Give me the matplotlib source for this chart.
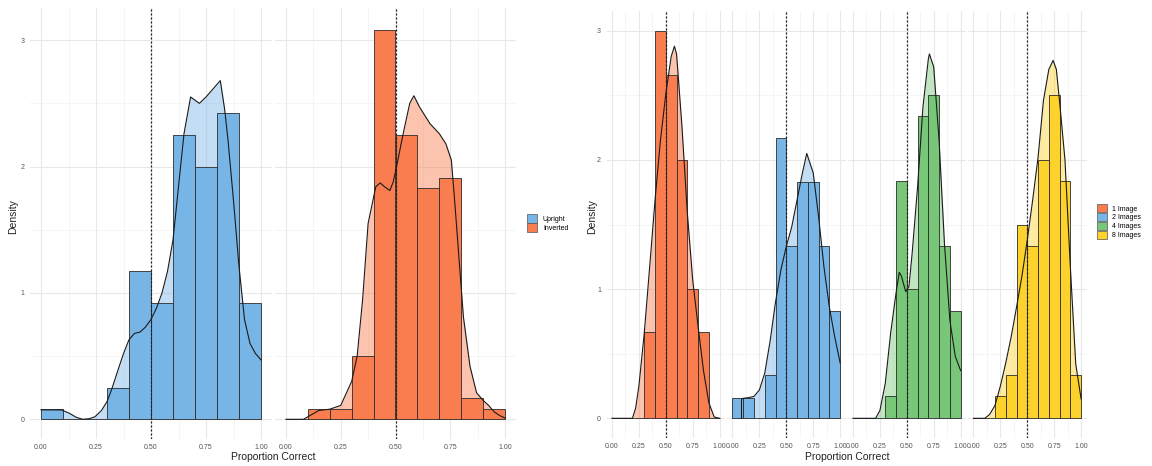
import matplotlib
matplotlib.use("Agg")
import matplotlib.pyplot as plt
from matplotlib.patches import Patch

# ---------------- data ----------------
BIN_STARTS = [0.0, 0.1, 0.2, 0.3, 0.4, 0.5, 0.6, 0.7, 0.8, 0.9]
BIN_WIDTH = 0.1
X_TICKS = [0.0, 0.25, 0.5, 0.75, 1.0]
X_TICK_LABELS = ["0.00", "0.25", "0.50", "0.75", "1.00"]
Y_TICKS = [0, 1, 2, 3]
Y_TICK_LABELS = ["0", "1", "2", "3"]
CHANCE = 0.5

# left chart: orientation
ORIENT_LABELS = ["Upright", "Inverted"]
UPRIGHT_HIST = [0.08, 0.0, 0.0, 0.25, 1.17, 0.92, 2.25, 2.0, 2.42, 0.92]
INVERTED_HIST = [0.0, 0.08, 0.08, 0.50, 3.08, 2.25, 1.83, 1.91, 0.17, 0.08]
UPRIGHT_DX = [0.0, 0.094, 0.13, 0.16, 0.19, 0.22, 0.245, 0.275, 0.3, 0.32, 0.35, 0.375,
              0.4, 0.425, 0.45, 0.475, 0.5, 0.525, 0.55, 0.575, 0.6, 0.625, 0.65, 0.68,
              0.72, 0.75, 0.775, 0.815, 0.835, 0.85, 0.875, 0.9, 0.925, 0.95, 0.975, 1.0]
UPRIGHT_DY = [0.075, 0.074, 0.047, 0.016, 0.0, 0.005, 0.02, 0.07, 0.14, 0.23, 0.39, 0.52,
              0.63, 0.68, 0.69, 0.73, 0.79, 0.88, 1.0, 1.17, 1.42, 1.84, 2.26, 2.55,
              2.5, 2.55, 2.6, 2.68, 2.45, 2.21, 1.73, 1.21, 0.79, 0.60, 0.52, 0.47]
INVERTED_DX = [0.0, 0.08, 0.1, 0.15, 0.2, 0.25, 0.3, 0.325, 0.35, 0.375, 0.41, 0.43, 0.45,
               0.474, 0.49, 0.505, 0.535, 0.565, 0.584, 0.61, 0.657, 0.7, 0.73, 0.755, 0.77,
               0.793, 0.81, 0.84, 0.87, 0.9, 0.925, 0.95, 0.975, 1.0]
INVERTED_DY = [0.0, 0.0, 0.02, 0.07, 0.08, 0.11, 0.3, 0.5, 0.95, 1.55, 1.84, 1.87, 1.84,
               1.81, 1.88, 2.0, 2.26, 2.5, 2.56, 2.47, 2.34, 2.26, 2.18, 2.05, 1.73,
               1.2, 0.81, 0.42, 0.21, 0.15, 0.11, 0.06, 0.03, 0.01]

# right chart: number of images
IMAGE_LABELS = ["1 Image", "2 Images", "4 Images", "8 Images"]
IMG1_HIST = [0.0, 0.0, 0.0, 0.665, 3.0, 2.66, 2.0, 1.0, 0.667, 0.0]
IMG2_HIST = [0.16, 0.16, 0.0, 0.335, 2.17, 1.33, 1.83, 1.83, 1.33, 0.83]
IMG4_HIST = [0.0, 0.0, 0.0, 0.17, 1.84, 1.0, 2.34, 2.5, 1.33, 0.83]
IMG8_HIST = [0.0, 0.0, 0.17, 0.335, 1.5, 1.33, 2.0, 2.5, 1.84, 0.335]
IMG1_DX = [0.0, 0.19, 0.22, 0.25, 0.3, 0.35, 0.4, 0.45, 0.5, 0.55, 0.58, 0.6, 0.65, 0.7,
           0.75, 0.8, 0.85, 0.9, 0.95, 1.0]
IMG1_DY = [0.0, 0.0, 0.08, 0.25, 0.66, 1.17, 1.69, 2.15, 2.51, 2.8, 2.88, 2.82, 2.26, 1.59,
           1.07, 0.71, 0.37, 0.12, 0.01, 0.0]
IMG2_DX = [0.084, 0.084, 0.1, 0.15, 0.2, 0.25, 0.3, 0.35, 0.4, 0.45, 0.5, 0.55, 0.6, 0.65,
           0.69, 0.75, 0.8, 0.85, 0.9, 0.95, 1.0]
IMG2_DY = [0.0, 0.15, 0.155, 0.16, 0.17, 0.22, 0.35, 0.6, 0.9, 1.15, 1.33, 1.48, 1.69, 1.9,
           2.05, 1.9, 1.56, 1.17, 0.86, 0.63, 0.43]
IMG4_DX = [0.0, 0.21, 0.25, 0.3, 0.35, 0.4, 0.43, 0.45, 0.49, 0.52, 0.55, 0.6, 0.65, 0.7,
           0.71, 0.75, 0.8, 0.85, 0.9, 0.95, 1.0]
IMG4_DY = [0.0, 0.0, 0.06, 0.27, 0.66, 0.97, 1.13, 1.1, 0.98, 1.02, 1.28, 1.79, 2.41, 2.78,
           2.82, 2.72, 2.15, 1.35, 0.76, 0.48, 0.37]
IMG8_DX = [0.0, 0.105, 0.15, 0.2, 0.25, 0.3, 0.35, 0.4, 0.45, 0.5, 0.55, 0.6, 0.65, 0.7,
           0.74, 0.77, 0.8, 0.85, 0.9, 0.95, 1.0]
IMG8_DY = [0.0, 0.0, 0.03, 0.1, 0.25, 0.43, 0.63, 0.86, 1.1, 1.38, 1.69, 2.02, 2.46, 2.7,
           2.77, 2.7, 2.45, 2.0, 1.17, 0.42, 0.15]

# ---------------- style ----------------
ORANGE = "#F97D4E"
BLUE = "#78B5E7"
GREEN = "#78C779"
YELLOW = "#FDD22C"
FONT = "Liberation Sans"
W, H = 1152, 466

plt.rcParams["font.family"] = [FONT, "DejaVu Sans"]
fig = plt.figure(figsize=(W / 100, H / 100), dpi=100)
fig.patch.set_facecolor("white")


def add_axes_px(left, right, top, bottom):
    return fig.add_axes([left / W, 1 - bottom / H, (right - left) / W, (bottom - top) / H])


def draw_panel(ax, hist, dx, dy, color, ylim, show_y):
    ax.set_xlim(-0.05, 1.05)
    ax.set_ylim(*ylim)
    for s in ax.spines.values():
        s.set_visible(False)
    ax.set_facecolor("white")
    # grid
    for v in [0.125, 0.375, 0.625, 0.875]:
        ax.axvline(v, color="#F2F2F2", lw=0.5, zorder=0)
    for v in [0.5, 1.5, 2.5]:
        ax.axhline(v, color="#F2F2F2", lw=0.5, zorder=0)
    for v in X_TICKS:
        ax.axvline(v, color="#E8E8E8", lw=0.8, zorder=0)
    for v in Y_TICKS:
        ax.axhline(v, color="#E8E8E8", lw=0.8, zorder=0)
    # density fill (behind)
    ax.fill_between(dx, 0, dy, color=color, alpha=0.45, lw=0, zorder=1)
    # histogram
    ax.bar(BIN_STARTS, hist, width=BIN_WIDTH, align="edge", color=color,
           edgecolor="#2b2b2b", linewidth=0.6, zorder=2)
    # density outline
    ax.plot(dx, dy, color="#1a1a1a", lw=0.8, zorder=3)
    # chance line
    ax.axvline(CHANCE, color="#1a1a1a", lw=0.9, ls=(0, (1.6, 1.6)), zorder=4)
    ax.set_xticks(X_TICKS)
    ax.set_xticklabels(X_TICK_LABELS)
    ax.set_yticks(Y_TICKS)
    if show_y:
        ax.set_yticklabels(Y_TICK_LABELS)
    else:
        ax.set_yticklabels([])
    ax.tick_params(length=0, labelsize=5, labelcolor="#555555", pad=4)
    ax.grid(False)


# ----- left chart -----
ylimL = (-0.155, 3.255)
axL1 = add_axes_px(30, 272, 7.9, 438.9)
axL2 = add_axes_px(275, 516, 7.9, 438.9)
draw_panel(axL1, UPRIGHT_HIST, UPRIGHT_DX, UPRIGHT_DY, BLUE, ylimL, True)
draw_panel(axL2, INVERTED_HIST, INVERTED_DX, INVERTED_DY, ORANGE, ylimL, False)

fig.text(273 / W, 1 - 457 / H, "Proportion Correct", ha="center", va="center",
         fontsize=7.5, color="#222222")
fig.text(13 / W, 1 - 217 / H, "Density", ha="center", va="center", rotation=90,
         fontsize=7.5, color="#222222")

handlesL = [Patch(facecolor=c, edgecolor="#555555", linewidth=0.5) for c in [BLUE, ORANGE]]
fig.legend(handlesL, ORIENT_LABELS, loc="upper left",
           bbox_to_anchor=(527 / W, 1 - 214 / H), frameon=False, fontsize=5,
           handlelength=1.4, handleheight=1.6, labelspacing=0.05, borderpad=0,
           handletextpad=0.9, borderaxespad=0)

# ----- right chart -----
ylimR = (-0.15, 3.15)
hists = [IMG1_HIST, IMG2_HIST, IMG4_HIST, IMG8_HIST]
dxs = [IMG1_DX, IMG2_DX, IMG4_DX, IMG8_DX]
dys = [IMG1_DY, IMG2_DY, IMG4_DY, IMG8_DY]
colors = [ORANGE, BLUE, GREEN, YELLOW]
for i in range(4):
    left = 606.6 + i * 120.5
    ax = add_axes_px(left, left + 118.4, 11.3, 437.7)
    draw_panel(ax, hists[i], dxs[i], dys[i], colors[i], ylimR, i == 0)

fig.text(847 / W, 1 - 457 / H, "Proportion Correct", ha="center", va="center",
         fontsize=7.5, color="#222222")
fig.text(592 / W, 1 - 217 / H, "Density", ha="center", va="center", rotation=90,
         fontsize=7.5, color="#222222")

handlesR = [Patch(facecolor=c, edgecolor="#555555", linewidth=0.5) for c in colors]
fig.legend(handlesR, IMAGE_LABELS, loc="upper left",
           bbox_to_anchor=(1097 / W, 1 - 204 / H), frameon=False, fontsize=5,
           handlelength=1.4, handleheight=1.5, labelspacing=0.05, borderpad=0,
           handletextpad=0.8, borderaxespad=0)

fig.savefig("out.png", dpi=100, facecolor="white")
